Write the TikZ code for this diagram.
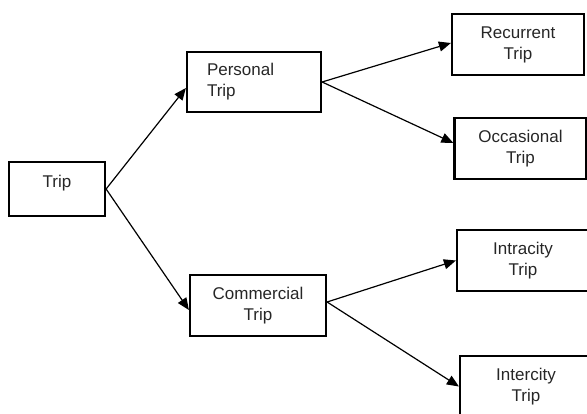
\documentclass[tikz,border=0pt]{standalone}
\usepackage{fontspec}
\setmainfont{Liberation Sans}
\usetikzlibrary{arrows.meta}

\begin{document}
\begin{tikzpicture}[x=1pt,y=-1pt,
  tripbox/.style={draw, line width=2.2pt, minimum width=132pt, minimum height=61pt, inner sep=0pt, align=center, text=black!85, font=\fontsize{17}{21}\selectfont},
  link/.style={line width=1.2pt, -{Triangle[length=12pt,width=10pt]}}]
\useasboundingbox (0,0) rectangle (587,414);
\clip (0,0) rectangle (587,414);

\node[tripbox, minimum width=96pt, minimum height=54pt, text depth=15pt] (trip) at (57,189) {Trip};

\node[tripbox, minimum width=134pt, minimum height=60pt, align=left, text width=94pt, inner xsep=20pt] (personal) at (254,82) {Personal\\Trip};
\node[tripbox, minimum width=136pt] (commercial) at (258,305.5) {Commercial\\Trip};

\node[tripbox] (recurrent) at (518,44.5) {Recurrent\\Trip};
\node[tripbox] (occasional) at (520.5,148.5) {Occasional\\Trip};
\node[tripbox] (intracity) at (523,260.5) {Intracity\\Trip};
\node[tripbox] (intercity) at (526,386.5) {Intercity\\Trip};

\draw[link] (trip.east) -- ([yshift=-6pt]personal.west);
\draw[link] (trip.east) -- ([yshift=-4.5pt]commercial.west);

\draw[link] (personal.east) -- ([yshift=1.5pt]recurrent.west);
\draw[link] (personal.east) -- ([yshift=5.5pt]occasional.west);

\draw[link] ([yshift=3.5pt]commercial.east) -- (intracity.west);
\draw[link] ([yshift=3.5pt]commercial.east) -- (intercity.west);

\end{tikzpicture}
\end{document}
